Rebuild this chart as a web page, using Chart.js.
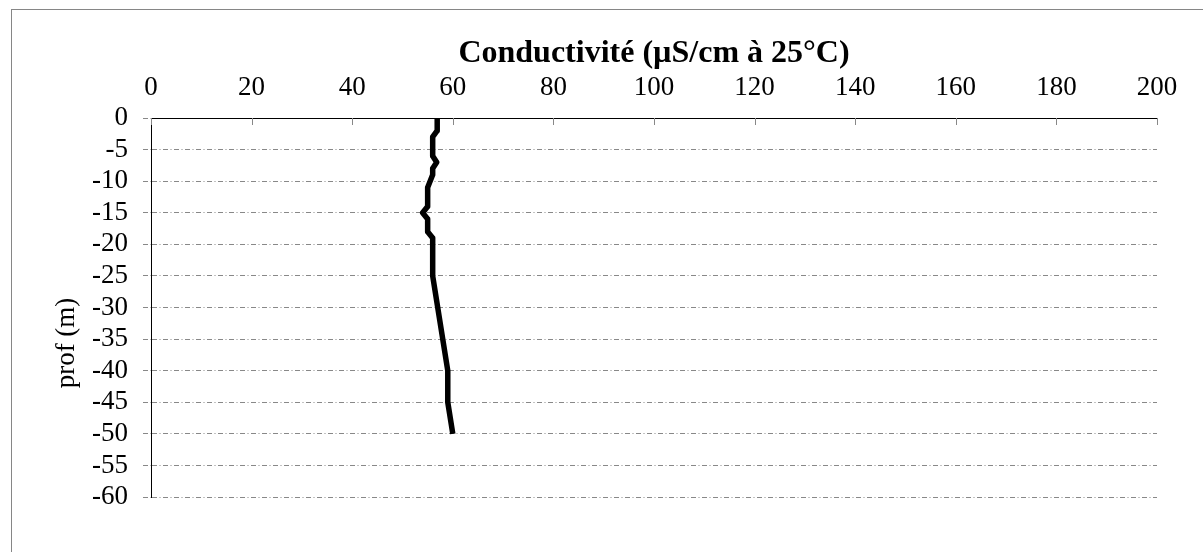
<!DOCTYPE html>
<html>
<head>
<meta charset="utf-8">
<script src="https://cdn.jsdelivr.net/npm/chart.js@4/dist/chart.umd.min.js"></script>
<style>
html,body{margin:0;padding:0;background:#fff;}
#wrap{position:relative;width:1203px;height:552px;}
</style>
</head>
<body>
<div id="wrap"><canvas id="c" width="1203" height="552"></canvas></div>
<script>
// Data
const depths = [0, -2, -3, -6, -7, -8, -9, -11, -14, -15, -16, -18, -19, -20, -25, -40, -45, -50];
const conductivity = [56.9, 56.9, 56, 56, 56.8, 56, 56, 55, 55, 54, 55, 55, 56, 56, 56, 59, 59, 60];
const xTickValues = [0, 20, 40, 60, 80, 100, 120, 140, 160, 180, 200];
const yTickValues = [0, -5, -10, -15, -20, -25, -30, -35, -40, -45, -50, -55, -60];
const xTitle = 'Conductivité (µS/cm à 25°C)';
const yTitle = 'prof (m)';

const points = depths.map((d, i) => ({x: conductivity[i], y: d}));
const FONT = '"Liberation Serif", "Times New Roman", serif';
const GRID = '#888888';
const DASH = [5, 2.5, 1, 2.5];

const decor = {
  id: 'decor',
  beforeDraw(chart) {
    const ctx = chart.ctx;
    ctx.save();
    ctx.strokeStyle = '#868686';
    ctx.lineWidth = 1;
    ctx.strokeRect(11.5, 9.5, 1400, 800);
    ctx.restore();
  },
  afterDatasetsDraw(chart) {
    const ctx = chart.ctx;
    const xs = chart.scales.x;
    const area = chart.chartArea;
    ctx.save();
    ctx.strokeStyle = GRID;
    ctx.lineWidth = 1;
    xTickValues.forEach(v => {
      const px = Math.round(xs.getPixelForValue(v)) + 0.5;
      ctx.beginPath();
      ctx.moveTo(px, area.top);
      ctx.lineTo(px, area.top + 7);
      ctx.stroke();
    });
    ctx.fillStyle = '#000';
    ctx.font = '27px ' + FONT;
    ctx.translate(67, 343);
    ctx.rotate(-Math.PI / 2);
    ctx.textAlign = 'center';
    ctx.textBaseline = 'middle';
    ctx.fillText(yTitle, 0, 0);
    ctx.restore();
  }
};

new Chart(document.getElementById('c'), {
  type: 'scatter',
  data: {
    datasets: [{
      data: points,
      showLine: true,
      borderColor: '#000',
      borderWidth: 5.5,
      pointRadius: 0,
      borderJoinStyle: 'round',
      borderCapStyle: 'butt',
      tension: 0
    }]
  },
  options: {
    responsive: false,
    animation: false,
    events: [],
    layout: {padding: {left: 0, top: 0, right: 46, bottom: 55}},
    plugins: {legend: {display: false}, tooltip: {enabled: false}},
    scales: {
      x: {
        type: 'linear',
        position: 'top',
        min: 0, max: 200,
        afterBuildTicks(s) { s.ticks = xTickValues.map(v => ({value: v})); },
        afterFit(s) { s.height = 118; },
        grid: {display: false, drawTicks: false},
        border: {display: true, color: '#000', width: 1},
        ticks: {color: '#000', font: {family: FONT, size: 27}, padding: 14, maxRotation: 0, autoSkip: false},
        title: {display: true, text: xTitle, color: '#000', font: {family: FONT, size: 32, weight: 'bold'}, padding: {top: 35, bottom: 0}}
      },
      y: {
        type: 'linear',
        min: -60, max: 0,
        afterBuildTicks(s) { s.ticks = yTickValues.map(v => ({value: v})); },
        afterFit(s) { s.width = 151; },
        grid: {display: true, color: GRID, lineWidth: 1, drawTicks: true, tickLength: 8, tickColor: GRID, tickBorderDash: DASH},
        border: {display: true, color: '#000', width: 1, dash: DASH},
        ticks: {color: '#000', font: {family: FONT, size: 27}, padding: 15, autoSkip: false}
      }
    }
  },
  plugins: [decor]
});
</script>
</body>
</html>
